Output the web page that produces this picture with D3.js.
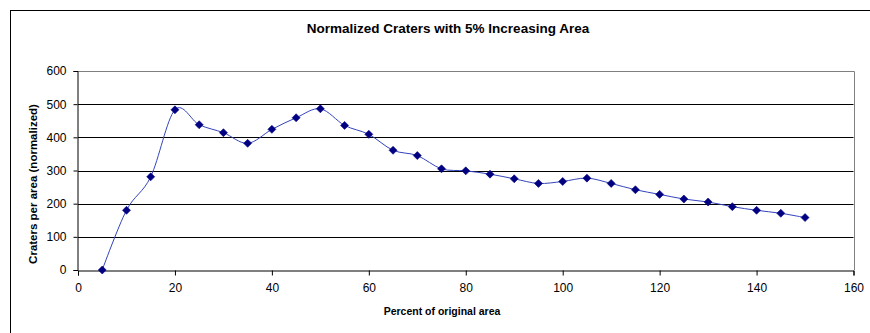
<!DOCTYPE html>
<html>
<head>
<meta charset="utf-8">
<script src="https://cdn.jsdelivr.net/npm/d3@7"></script>
<style>
  body { margin: 0; background: #fff; }
  svg { display: block; font-family: "Liberation Sans", Arial, sans-serif; }
</style>
</head>
<body>
<svg id="chart" width="870" height="333"></svg>
<script>
// data
const pctArea = [5, 10, 15, 20, 25, 30, 35, 40, 45, 50, 55, 60, 65, 70, 75,
                 80, 85, 90, 95, 100, 105, 110, 115, 120, 125, 130, 135, 140, 145, 150];
const craters = [0, 180, 281, 483, 438, 414, 382, 424, 459, 486, 436, 409, 361, 345, 305,
                 299, 289, 275, 261, 267, 277, 261, 242, 228, 214, 205, 191, 180, 171, 158];
const xTicks = [0, 20, 40, 60, 80, 100, 120, 140, 160];
const yTicks = [0, 100, 200, 300, 400, 500, 600];

const svg = d3.select("#chart");

// chart frame (runs off the right and bottom of the picture)
svg.append("rect")
    .attr("x", 10.5).attr("y", 10.5)
    .attr("width", 900).attr("height", 400)
    .attr("fill", "#fff").attr("stroke", "#000");

const x = d3.scaleLinear().domain([0, 160]).range([78, 853.5]);
const y = d3.scaleLinear().domain([0, 600]).range([270, 71]);

// gridlines
svg.append("g")
    .selectAll("line")
    .data(yTicks.filter(d => d > 0 && d < 600))
    .join("line")
    .attr("x1", x(0)).attr("x2", x(160))
    .attr("y1", d => Math.round(y(d)) + 0.5).attr("y2", d => Math.round(y(d)) + 0.5)
    .attr("stroke", "#000");

// plot area border top and right (grey)
svg.append("path")
    .attr("d", `M${x(0)},${Math.round(y(600)) + 0.5}H${Math.round(x(160)) + 0.5}V${y(0)}`)
    .attr("fill", "none").attr("stroke", "#808080");

// axes
const xAxis = svg.append("g")
    .attr("transform", `translate(0,${Math.round(y(0)) + 0.5})`)
    .call(d3.axisBottom(x).tickValues(xTicks).tickSizeOuter(0).tickSize(5).tickPadding(8));
const yAxis = svg.append("g")
    .attr("transform", `translate(${Math.round(x(0)) - 0.5},0)`)
    .call(d3.axisLeft(y).tickValues(yTicks).tickSizeOuter(0).tickSize(4).tickPadding(7));

[xAxis, yAxis].forEach(g => {
    g.select(".domain").attr("stroke", "#000");
    g.selectAll(".tick line").attr("stroke", "#000");
    g.selectAll(".tick text")
        .attr("fill", "#000")
        .style("font-size", "12px")
        .style("font-family", "Liberation Sans, Arial, sans-serif");
});

// smoothed line
const line = d3.line()
    .x((d, i) => x(pctArea[i]))
    .y(d => y(d))
    .curve(d3.curveCatmullRom.alpha(0));

svg.append("path")
    .datum(craters)
    .attr("d", line)
    .attr("fill", "none")
    .attr("stroke", "#3344bb")
    .attr("stroke-width", 1);

// diamond markers
svg.append("g")
    .selectAll("path")
    .data(craters)
    .join("path")
    .attr("transform", (d, i) => `translate(${x(pctArea[i])},${y(d)})`)
    .attr("d", "M0,-4L4,0L0,4L-4,0Z")
    .attr("fill", "#000080")
    .attr("stroke", "#000080")
    .attr("stroke-width", 0.6);

// titles
svg.append("text")
    .attr("x", 448).attr("y", 33)
    .attr("text-anchor", "middle")
    .style("font-size", "13.5px").style("font-weight", "bold")
    .text("Normalized Craters with 5% Increasing Area");

svg.append("text")
    .attr("x", 442).attr("y", 315)
    .attr("text-anchor", "middle")
    .style("font-size", "10.5px").style("font-weight", "bold")
    .text("Percent of original area");

svg.append("text")
    .attr("transform", "translate(37,184) rotate(-90)")
    .attr("text-anchor", "middle")
    .style("font-size", "11.5px").style("font-weight", "bold")
    .text("Craters per area (normalized)");
</script>
</body>
</html>
